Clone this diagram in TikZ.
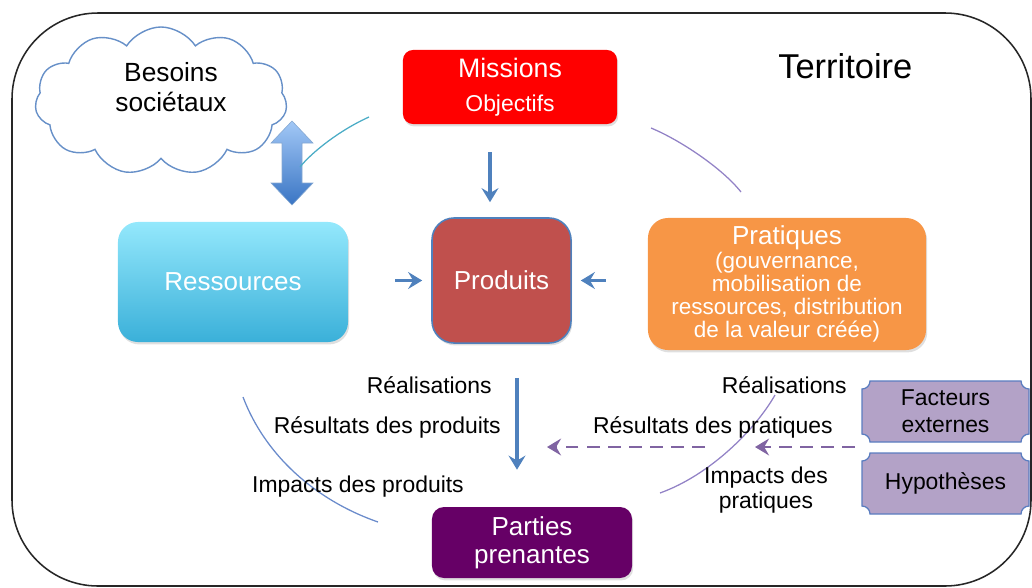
\documentclass[tikz,border=0pt]{standalone}
\usepackage{fontspec}
\setmainfont{Liberation Sans}
\usetikzlibrary{shapes.symbols, arrows.meta, shadows, calc}
\definecolor{missionred}{HTML}{FF0000}
\definecolor{produitsfill}{HTML}{C0504D}
\definecolor{bluecol}{HTML}{4F81BD}
\definecolor{pratfill}{HTML}{F79646}
\definecolor{partiesfill}{HTML}{660066}
\definecolor{plaquefill}{HTML}{B3A2C7}
\definecolor{plaqueborder}{HTML}{5A7DC0}
\definecolor{resstop}{HTML}{94E8FC}
\definecolor{ressbot}{HTML}{3AB0D9}
\definecolor{dashpurple}{HTML}{8064A2}
\definecolor{arccyan}{HTML}{4BACC6}
\definecolor{arcpurple}{HTML}{9282C6}
\definecolor{arcblue}{HTML}{6A8BCB}
\definecolor{cloudline}{HTML}{6790C8}
\definecolor{dbltop}{HTML}{A2C8F6}
\definecolor{dblbot}{HTML}{3A75C4}
\newcommand{\plaquepath}[4]{%
 \draw[plaque] ({#1+8},#2) -- ({#3-8},#2) .. controls ({#3-8},{#2+4.4}) and ({#3-4.4},{#2+8}) .. (#3,{#2+8}) -- (#3,{#4-8}) .. controls ({#3-4.4},{#4-8}) and ({#3-8},{#4-4.4}) .. ({#3-8},#4) -- ({#1+8},#4) .. controls ({#1+8},{#4-4.4}) and ({#1+4.4},{#4-8}) .. (#1,{#4-8}) -- (#1,{#2+8}) .. controls ({#1+4.4},{#2+8}) and ({#1+8},{#2+4.4}) .. ({#1+8},#2) -- cycle;}
\begin{document}
\begin{tikzpicture}[x=0.025cm, y=-0.025cm,
  bigfont/.style={font=\fontsize{18.5}{21}\selectfont},
  midfont/.style={font=\fontsize{16.3}{18.5}\selectfont},
  shadowed/.style={drop shadow={shadow xshift=0.03cm, shadow yshift=-0.06cm, opacity=0.25}},
  box/.style={rectangle, text=white, align=center, inner sep=2pt, shadowed},
  lbl/.style={midfont, text=black, inner sep=0pt},
  plaque/.style={fill=plaquefill, draw=plaqueborder, line width=0.9pt},
  blarrow/.style={draw=bluecol, line width=2.2pt, -{Stealth[length=10pt, width=12pt, inset=3.5pt]}},
  dasharrow/.style={draw=dashpurple, line width=2.1pt, dash pattern=on 9pt off 6pt, -{Stealth[length=10pt, width=12pt, inset=3.5pt]}},
  arcline/.style={line width=0.9pt},
  framestyle/.style={draw=black!85, line width=1.1pt, rounded corners=2.15cm}
]
\useasboundingbox (0,0) rectangle (1032,587);
% outer frame
\draw[framestyle] (12,13) rectangle (1031,586);
\node[lbl, font=\fontsize{24.5}{28}\selectfont, anchor=base west] (territoire) at (778,78) {Territoire};

% cloud
\node[cloud, cloud puffs=11, cloud puff arc=115, aspect=1.71, draw=cloudline, line width=1pt, fill=white,
      minimum width=6.3cm, minimum height=3.7cm, inner sep=0pt] (besoins) at (161,101) {};
\node[text=black, align=center, inner sep=0pt, font=\fontsize{18.7}{21.3}\selectfont] (besoinstxt) at (171,87) {Besoins\\sociétaux};

% double block arrow
\shade[top color=dbltop, bottom color=dblbot, draw=bluecol!70, line width=0.4pt]
  (292,121) -- (313,143) -- (302,143) -- (302,183) -- (313,183) -- (292,205) -- (271,183) -- (282,183) -- (282,143) -- (271,143) -- cycle;

% decorative arcs
\draw[arcline, draw=arccyan] (300,167) .. controls (312,152) and (340,130) .. (369,117);
\draw[arcline, draw=arcpurple] (651,128) .. controls (680,140) and (722,168) .. (741,192);
\draw[arcline, draw=arcblue] (243,397) .. controls (265,455) and (315,500) .. (378,522);
\draw[arcline, draw=arcpurple] (775,395) .. controls (755,430) and (710,475) .. (660,493);

% boxes
\node[box, fill=missionred, minimum width=5.35cm, minimum height=1.85cm, rounded corners=0.25cm,
      font=\fontsize{19}{24}\selectfont] (missions) at (510,87)
  {Missions\\{\fontsize{16.3}{24}\selectfont Objectifs}};
\node[box, fill=produitsfill, draw=bluecol, line width=1.1pt, minimum width=3.475cm, minimum height=3.125cm,
      rounded corners=0.55cm, bigfont] (produits) at (501.5,280.5) {Produits};
\node[box, top color=resstop, bottom color=ressbot, minimum width=5.75cm, minimum height=3cm,
      rounded corners=0.5cm, bigfont] (ressources) at (233,282) {Ressources};
\node[box, fill=pratfill, minimum width=6.95cm, minimum height=3.3cm, rounded corners=0.5cm,
      font=\fontsize{16}{16.4}\selectfont] (pratiques) at (787,284)
  {{\fontsize{18.5}{16.4}\selectfont Pratiques}\\(gouvernance,\\mobilisation de\\ressources, distribution\\de la valeur créée)};
\node[box, fill=partiesfill, minimum width=5cm, minimum height=1.775cm, rounded corners=0.3cm,
      font=\fontsize{18.5}{20}\selectfont] (parties) at (532,542.5) {Parties\\prenantes};

% plaques
\plaquepath{862}{381}{1029}{442}
\plaquepath{862}{453}{1029}{514}
\node[text=black, align=center, inner sep=0pt, font=\fontsize{16.3}{19.2}\selectfont] (facteurs) at (945.5,411.5) {Facteurs\\externes};
\node[text=black, align=center, inner sep=0pt, font=\fontsize{16.3}{19.2}\selectfont] (hypotheses) at (945.5,483.5) {Hypothèses};

% blue arrows
\coordinate (xa) at (490,0);
\coordinate (xb) at (517,0);
\draw[blarrow, shorten <=0.7cm, shorten >=0.375cm] (missions.south -| xa) -- (produits.north -| xa);
\draw[blarrow, shorten <=1.175cm, shorten >=0.225cm] (ressources.east |- produits.west) -- (produits.west);
\draw[blarrow, shorten <=1.05cm, shorten >=0.225cm] (pratiques.west |- produits.east) -- (produits.east);
\draw[blarrow, shorten <=0.85cm, shorten >=0.925cm] (produits.south -| xb) -- (parties.north -| xb);

% dashed arrows
\coordinate (dA) at (855,447);
\coordinate (dB) at (755,447);
\coordinate (dC) at (705,447);
\coordinate (dD) at (547,447);
\draw[dasharrow] (dA) -- (dB);
\draw[dasharrow] (dC) -- (dD);

% labels
\node[lbl, anchor=base east] (real1) at (492,393) {Réalisations};
\node[lbl, anchor=base east] (res1) at (501,433) {Résultats des produits};
\node[lbl, anchor=base east] (imp1) at (464,492) {Impacts des produits};
\node[lbl, anchor=base east] (real2) at (847,393) {Réalisations};
\node[lbl, anchor=base east] (res2) at (833,433) {Résultats des pratiques};
\node[lbl, align=center, font=\fontsize{16.3}{17.8}\selectfont] (imp2) at (766,490) {Impacts des\\pratiques};
\end{tikzpicture}
\end{document}
